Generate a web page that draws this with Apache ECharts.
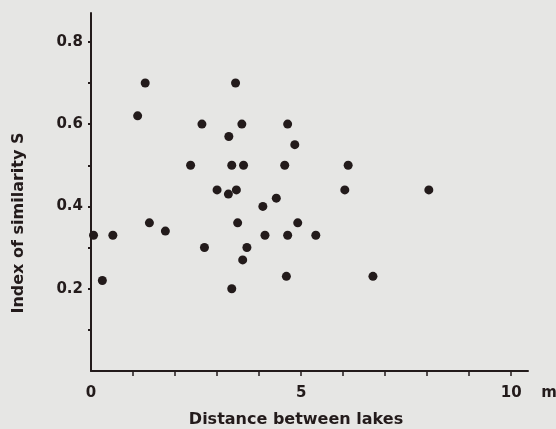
<!DOCTYPE html>
<html>
<head>
<meta charset="utf-8">
<script src="https://cdn.jsdelivr.net/npm/echarts@6/dist/echarts.min.js"></script>
<style>
html,body{margin:0;padding:0;background:#e6e6e4;}
#c{width:556px;height:429px;}
</style>
</head>
<body>
<div id="c"></div>
<script>
// Distance between lakes (x) vs Index of similarity S (y)
const distance = [1.29, 3.44, 1.11, 2.64, 3.59, 3.28, 2.37, 3.35, 3.63, 3.00, 3.27, 3.46, 4.41, 4.09, 4.68, 4.85, 4.61, 3.49, 4.92, 4.14, 4.68, 5.35, 2.70, 3.71, 3.61, 4.65, 3.35, 6.12, 6.04, 8.04, 6.71, 1.39, 0.06, 0.52, 1.77, 0.27];
const similarity = [0.70, 0.70, 0.62, 0.60, 0.60, 0.57, 0.50, 0.50, 0.50, 0.44, 0.43, 0.44, 0.42, 0.40, 0.60, 0.55, 0.50, 0.36, 0.36, 0.33, 0.33, 0.33, 0.30, 0.30, 0.27, 0.23, 0.20, 0.50, 0.44, 0.44, 0.23, 0.36, 0.33, 0.33, 0.34, 0.22];
const xTicks = [1, 2, 3, 4, 5, 6, 7, 8, 9, 10];
const xLabels = [0, 5, 10];
const yTicks = [0.1, 0.2, 0.3, 0.4, 0.5, 0.6, 0.7, 0.8];
const yLabels = [0.2, 0.4, 0.6, 0.8];
const xName = 'Distance between lakes';
const yName = 'Index of similarity S';
const xUnit = 'm';

const points = distance.map((d, i) => [d, similarity[i]]);
const ink = '#231b1b';
const font = '"DejaVu Sans", sans-serif';

const chart = echarts.init(document.getElementById('c'), null, {renderer: 'canvas'});
chart.setOption({
  backgroundColor: '#e6e6e4',
  animation: false,
  grid: {left: 91, top: 13, width: 437, height: 358},
  xAxis: {
    type: 'value', min: 0, max: 10.4,
    axisLine: {show: true, onZero: false, lineStyle: {color: ink, width: 2}},
    axisTick: {show: true, length: 5, customValues: xTicks, lineStyle: {color: ink, width: 1.5}},
    axisLabel: {customValues: xLabels, margin: 15, color: ink, fontFamily: font, fontWeight: 'bold', fontSize: 15,
      formatter: v => String(v)},
    splitLine: {show: false}
  },
  yAxis: {
    type: 'value', min: 0, max: 0.87,
    axisLine: {show: true, onZero: false, lineStyle: {color: ink, width: 2}},
    axisTick: {show: true, length: 3, customValues: yTicks, lineStyle: {color: ink, width: 2}},
    axisLabel: {customValues: yLabels, margin: 8, color: ink, fontFamily: font, fontWeight: 'bold', fontSize: 15,
      formatter: v => v.toFixed(1)},
    splitLine: {show: false}
  },
  series: [{
    type: 'scatter', data: points, symbol: 'circle', symbolSize: 9,
    itemStyle: {color: ink, opacity: 1}
  }],
  graphic: [
    {type: 'text', x: 296, y: 420, style: {text: xName, fill: ink, font: 'bold 16px ' + font, align: 'center', verticalAlign: 'middle'}},
    {type: 'text', x: 19, y: 223, rotation: Math.PI / 2, style: {text: yName, fill: ink, font: 'bold 16px ' + font, align: 'center', verticalAlign: 'middle'}},
    {type: 'text', x: 549, y: 393, style: {text: xUnit, fill: ink, font: 'bold 15px ' + font, align: 'center', verticalAlign: 'middle'}}
  ]
});
</script>
</body>
</html>
